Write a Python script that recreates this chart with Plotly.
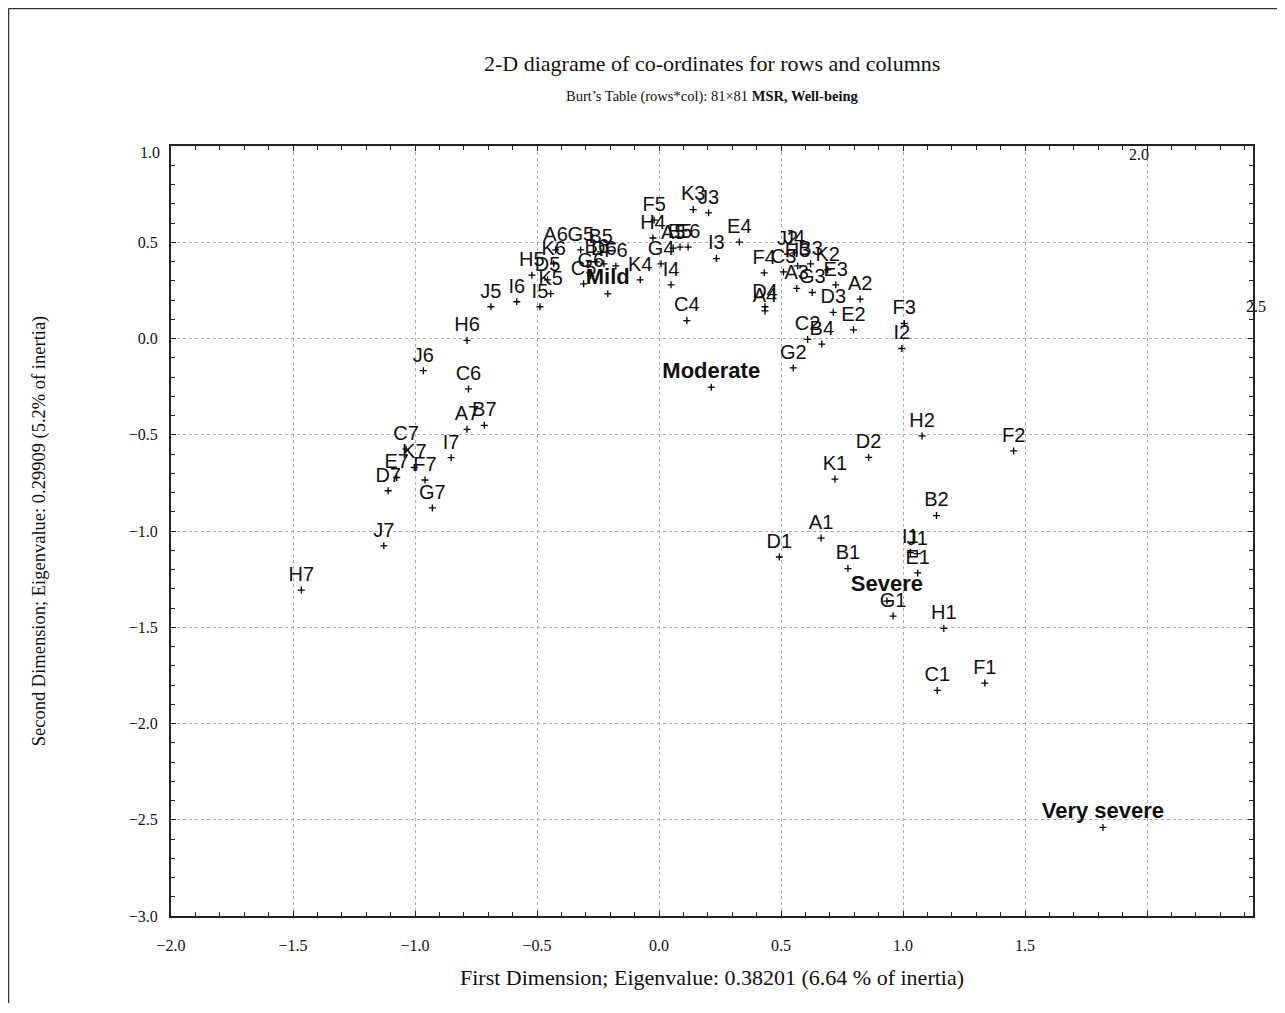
import plotly.graph_objects as go

# ---- data ----
labels = [
    "A1", "B1", "C1", "D1", "E1", "F1", "G1", "H1", "I1", "J1", "K1",
    "A2", "B2", "C2", "D2", "E2", "F2", "G2", "H2", "I2", "J2", "K2",
    "A3", "B3", "C3", "D3", "E3", "F3", "G3", "H3", "I3", "J3", "K3",
    "A4", "B4", "C4", "D4", "E4", "F4", "G4", "H4", "I4", "J4", "K4",
    "A5", "B5", "C5", "D5", "E5", "F5", "G5", "H5", "I5", "J5", "K5",
    "A6", "B6", "C6", "D6", "E6", "F6", "G6", "H6", "I6", "J6", "K6",
    "A7", "B7", "C7", "D7", "E7", "F7", "G7", "H7", "I7", "J7", "K7",
]
dim1 = [
    0.664, 0.774, 1.140, 0.493, 1.060, 1.335, 0.959, 1.167, 1.030, 1.058, 0.721,
    0.824, 1.137, 0.609, 0.859, 0.797, 1.453, 0.550, 1.078, 0.995, 0.527, 0.691,
    0.564, 0.621, 0.510, 0.714, 0.724, 1.005, 0.628, 0.568, 0.235, 0.203, 0.140,
    0.434, 0.667, 0.114, 0.434, 0.329, 0.431, 0.008, -0.025, 0.049, 0.555, -0.077,
    0.058, -0.239, -0.309, -0.457, 0.086, -0.020, -0.321, -0.521, -0.488, -0.689, -0.444,
    -0.424, -0.255, -0.781, -0.226, 0.119, -0.177, -0.280, -0.787, -0.583, -0.966, -0.432,
    -0.787, -0.716, -1.037, -1.110, -1.075, -0.959, -0.929, -1.466, -0.852, -1.128, -1.003,
]
dim2 = [
    -1.037, -1.195, -1.828, -1.135, -1.218, -1.790, -1.442, -1.506, -1.112, -1.118, -0.730,
    0.205, -0.920, -0.005, -0.618, 0.045, -0.584, -0.153, -0.506, -0.052, 0.439, 0.357,
    0.260, 0.388, 0.346, 0.136, 0.279, 0.078, 0.239, 0.377, 0.415, 0.653, 0.670,
    0.143, -0.029, 0.093, 0.165, 0.501, 0.341, 0.388, 0.522, 0.279, 0.445, 0.305,
    0.470, 0.450, 0.284, 0.305, 0.475, 0.615, 0.460, 0.329, 0.165, 0.165, 0.233,
    0.460, 0.398, -0.262, 0.388, 0.475, 0.377, 0.326, -0.010, 0.191, -0.167, 0.388,
    -0.472, -0.451, -0.575, -0.791, -0.722, -0.735, -0.880, -1.307, -0.619, -1.077, -0.670,
]

msr_labels = ["Mild", "Moderate", "Severe", "Very severe"]
msr_dim1 = [-0.210, 0.214, 0.934, 1.819]
msr_dim2 = [0.232, -0.253, -1.364, -2.540]

x_ticks = [-2.0, -1.5, -1.0, -0.5, 0.0, 0.5, 1.0, 1.5, 2.0]
x_ticktext = ["\u22122.0", "\u22121.5", "\u22121.0", "\u22120.5", "0.0", "0.5", "1.0", "1.5", ""]
y_ticks = [1.0, 0.5, 0.0, -0.5, -1.0, -1.5, -2.0, -2.5, -3.0]
y_ticktext = ["", "0.5", "0.0", "\u22120.5", "\u22121.0", "\u22121.5", "\u22122.0", "\u22122.5", "\u22123.0"]

title = "2-D diagrame of co-ordinates for rows and columns"
subtitle = "Burt\u2019s Table (rows*col): 81\u00d781 <b>MSR, Well-being</b>"
x_title = "First Dimension; Eigenvalue: 0.38201 (6.64 % of inertia)"
y_title = "Second Dimension; Eigenvalue: 0.29909 (5.2% of inertia)"

SERIF = "Liberation Serif, Times New Roman, serif"
NARROW = "Liberation Sans Narrow, Arial Narrow, Liberation Sans, Arial, sans-serif"
SANS = "Liberation Sans, Arial, sans-serif"

L, R, T, B = 163, 40, 138, 105
W, H = 1285, 1013
PW, PH = W - L - R, H - T - B

def px(xp):
    return (xp - L) / PW

def py(yp):
    return (H - B - yp) / PH

fig = go.Figure()
fig.add_trace(go.Scatter(
    x=dim1, y=dim2, text=labels, mode="markers+text",
    textposition="top center",
    textfont=dict(family=NARROW, size=20, color="#111"),
    marker=dict(symbol="cross-thin", size=5, line=dict(width=1.3, color="black"), color="black"),
    cliponaxis=False, showlegend=False,
))
fig.add_trace(go.Scatter(
    x=msr_dim1, y=msr_dim2, text=["<b>%s</b>" % t for t in msr_labels], mode="markers+text",
    textposition="top center",
    textfont=dict(family=SANS, size=22, color="#111"),
    marker=dict(symbol="cross-thin", size=5, line=dict(width=1.3, color="black"), color="black"),
    cliponaxis=False, showlegend=False,
))

axis_common = dict(
    showline=True, linecolor="#222", linewidth=2, mirror="ticks",
    ticks="inside", ticklen=5, tickcolor="#222", tickwidth=1,
    showgrid=True, gridcolor="#aaaaaa", griddash="dot", gridwidth=1,
    zeroline=False, automargin=False,
    tickfont=dict(family=SERIF, size=16, color="#111"),
    minor=dict(ticks="inside", ticklen=4, tickcolor="#222", tickwidth=1, showgrid=False),
)

fig.update_xaxes(**axis_common)
fig.update_yaxes(**axis_common)
fig.update_xaxes(
    range=[-2.0, 2.434], tickmode="array", tickvals=x_ticks, ticktext=x_ticktext,
    minor_dtick=0.1, ticklabelstandoff=14,
    title=dict(text=x_title, font=dict(family=SERIF, size=22, color="#111"), standoff=16),
)
fig.update_yaxes(
    range=[-3.0, 1.0], tickmode="array", tickvals=y_ticks, ticktext=y_ticktext,
    minor_dtick=0.1, ticklabelstandoff=8,
    title=dict(text=y_title, font=dict(family=SERIF, size=18.5, color="#111"), standoff=78),
)

annotations = [
    dict(text=title, x=0.5, y=py(55), xref="paper", yref="paper", showarrow=False,
         font=dict(family=SERIF, size=22, color="#111"), xanchor="center", yanchor="middle"),
    dict(text=subtitle, x=0.5, y=py(89), xref="paper", yref="paper", showarrow=False,
         font=dict(family=SERIF, size=14.5, color="#111"), xanchor="center", yanchor="middle"),
    # edge tick labels that the original draws displaced
    dict(text="1.0", x=px(L - 9), y=py(145), xref="paper", yref="paper", showarrow=False,
         font=dict(family=SERIF, size=16, color="#111"), xanchor="right", yanchor="middle"),
    dict(text="2.0", x=1.965, y=py(146), xref="x", yref="paper", showarrow=False,
         font=dict(family=SERIF, size=16, color="#111"), xanchor="center", yanchor="middle"),
    dict(text="2.5", x=px(1248), y=py(298), xref="paper", yref="paper", showarrow=False,
         font=dict(family=SERIF, size=16, color="#111"), xanchor="center", yanchor="middle"),
]

shapes = [
    dict(type="line", xref="paper", yref="paper", x0=px(0.5), x1=px(1285), y0=py(0.5), y1=py(0.5),
         line=dict(color="#333", width=1.5)),
    dict(type="line", xref="paper", yref="paper", x0=px(0.5), x1=px(0.5), y0=py(0.5), y1=py(995),
         line=dict(color="#333", width=1.5)),
]

fig.update_layout(
    width=W, height=H,
    margin=dict(l=L, r=R, t=T, b=B),
    paper_bgcolor="white", plot_bgcolor="white",
    annotations=annotations, shapes=shapes,
    font=dict(family=SERIF, color="#111"),
)

fig.write_html("out.html")
